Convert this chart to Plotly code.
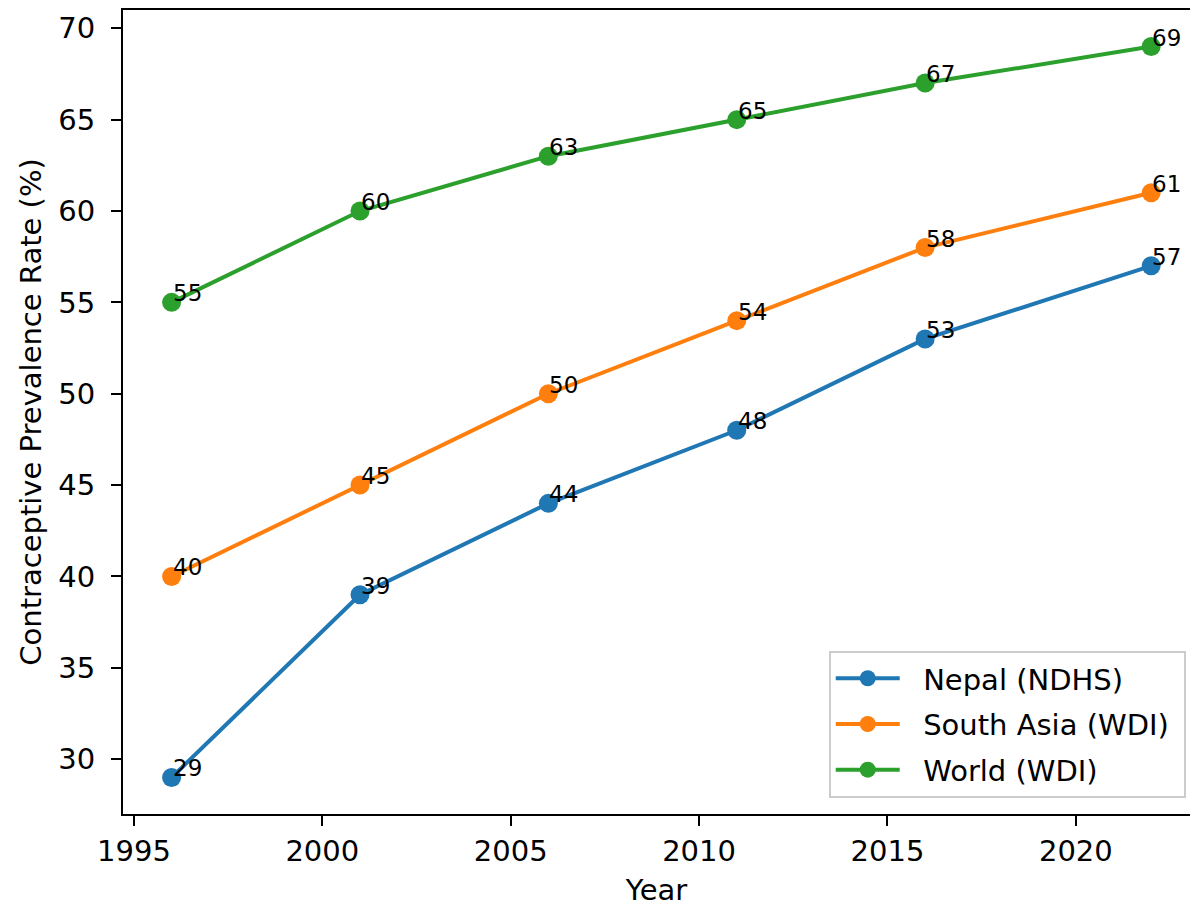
import plotly.graph_objects as go

years = [1996, 2001, 2006, 2011, 2016, 2022]
nepal = [29, 39, 44, 48, 53, 57]
south_asia = [40, 45, 50, 54, 58, 61]
world = [55, 60, 63, 65, 67, 69]
series_names = ["Nepal (NDHS)", "South Asia (WDI)", "World (WDI)"]
colors = ["#1f77b4", "#ff7f0e", "#2ca02c"]

FONT = "DejaVu Sans"
fig = go.Figure()
annotations = []
for i, (name, vals, col) in enumerate(zip(series_names, [nepal, south_asia, world], colors)):
    fig.add_trace(go.Scatter(
        x=years, y=vals, mode="lines+markers",
        name="\u00a0\u00a0" + name + "\u00a0",
        legendgroup="g%d" % i,
        line=dict(color=col, width=4),
        marker=dict(color=col, size=19),
    ))
    for xv, yv in zip(years, vals):
        annotations.append(dict(
            x=xv, y=yv, xref="x", yref="y", text=str(yv), showarrow=False,
            xanchor="left", yanchor="bottom", yshift=-6, xshift=-1,
            font=dict(family=FONT, size=23, color="black"),
        ))

fig.update_layout(
    width=1190, height=907,
    margin=dict(l=123, r=0, t=10, b=93),
    paper_bgcolor="white", plot_bgcolor="white",
    font=dict(family=FONT, size=29, color="black"),
    annotations=annotations,
    legend=dict(
        x=0.996, y=0.02, xanchor="right", yanchor="bottom",
        bgcolor="rgba(255,255,255,0.8)", bordercolor="#cccccc", borderwidth=2,
        font=dict(family=FONT, size=29, color="black"),
        itemwidth=64, tracegroupgap=5, traceorder="grouped",
    ),
    showlegend=True,
)
fig.update_xaxes(
    range=[1994.71, 2023.03], tickmode="array",
    tickvals=[1995, 2000, 2005, 2010, 2015, 2020],
    ticks="outside", ticklen=10, tickwidth=2, tickcolor="black",
    showline=True, linecolor="black", linewidth=2, mirror=True,
    showgrid=False, zeroline=False,
    tickfont=dict(family=FONT, size=29),
    title=dict(text="Year", font=dict(family=FONT, size=29), standoff=14),
)
fig.update_yaxes(
    range=[27, 71], tickmode="array",
    tickvals=[30, 35, 40, 45, 50, 55, 60, 65, 70],
    ticks="outside", ticklen=10, tickwidth=2, tickcolor="black",
    showline=True, linecolor="black", linewidth=2,
    showgrid=False, zeroline=False,
    tickfont=dict(family=FONT, size=29),
    ticklabelstandoff=10,
    title=dict(text="Contraceptive Prevalence Rate (%)", font=dict(family=FONT, size=29), standoff=8),
)
fig.write_html(
    "out.html",
    config={"displayModeBar": False},
    post_script="document.body.style.margin='0';document.body.style.overflow='hidden';",
)
